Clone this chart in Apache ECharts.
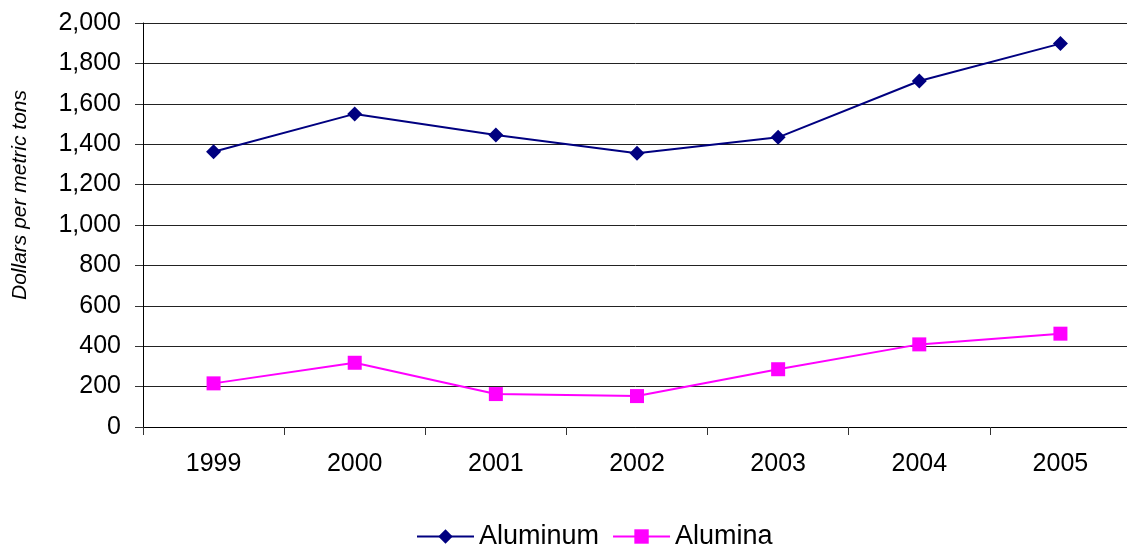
<!DOCTYPE html>
<html lang="en">
<head>
  <meta charset="UTF-8">
  <title>Aluminum and alumina prices</title>
  <script src="https://cdn.jsdelivr.net/npm/echarts@6/dist/echarts.min.js"></script>
</head>
<body style="margin:0;width:1127px;height:546px;overflow:hidden;background:#fff;">
  <div id="main" style="width:1127px;height:546px;"></div>
</body>
<script>
  var years = ['1999', '2000', '2001', '2002', '2003', '2004', '2005'];
  var aluminum = [1363, 1550, 1446, 1355, 1434, 1713, 1898];
  var alumina = [216, 318, 163, 153, 286, 409, 462];

  var myChart = echarts.init(document.getElementById('main'));
  var font = 'Liberation Sans, Arial, sans-serif';

  var option = {
    backgroundColor: '#fff',
    animation: false,
    textStyle: { fontFamily: font },
    grid: {
      left: 143, top: 23, right: -4, bottom: 119,
      containLabel: false,
      outerBoundsMode: 'none'
    },
    legend: {
      top: 518,
      left: 411,
      itemWidth: 57,
      itemHeight: 18,
      itemGap: 13,
      textStyle: { fontSize: 27, color: '#000', fontFamily: font },
      data: ['Aluminum', 'Alumina']
    },
    xAxis: {
      type: 'category',
      data: years,
      boundaryGap: true,
      axisLine: { lineStyle: { color: '#000', width: 1 } },
      axisTick: { show: true, length: 8, lineStyle: { color: '#333' } },
      axisLabel: { fontSize: 25, color: '#000', margin: 25, fontFamily: font },
      splitLine: { show: false }
    },
    yAxis: {
      type: 'value',
      min: 0,
      max: 2000,
      interval: 200,
      name: 'Dollars per metric tons',
      nameLocation: 'middle',
      nameGap: 112,
      nameRotate: 90,
      nameTextStyle: {
        fontSize: 21,
        fontStyle: 'italic',
        color: '#000',
        fontFamily: font,
        padding: [0, 0, 0, 60]
      },
      axisLine: { show: true, lineStyle: { color: '#000', width: 1 } },
      axisTick: { show: true, length: 8, lineStyle: { color: '#333' } },
      axisLabel: {
        fontSize: 25,
        color: '#000',
        margin: 22,
        fontFamily: font,
        formatter: function (v) { return v.toLocaleString('en-US'); }
      },
      splitLine: { show: true, lineStyle: { color: '#222', width: 1 } }
    },
    series: [{
      name: 'Aluminum',
      type: 'line',
      data: aluminum,
      symbol: 'diamond',
      symbolSize: 15,
      itemStyle: { color: '#000080' },
      lineStyle: { color: '#000080', width: 2 }
    }, {
      name: 'Alumina',
      type: 'line',
      data: alumina,
      symbol: 'rect',
      symbolSize: 14,
      itemStyle: { color: '#FF00FF' },
      lineStyle: { color: '#FF00FF', width: 2 }
    }]
  };

  myChart.setOption(option);
</script>
</html>
